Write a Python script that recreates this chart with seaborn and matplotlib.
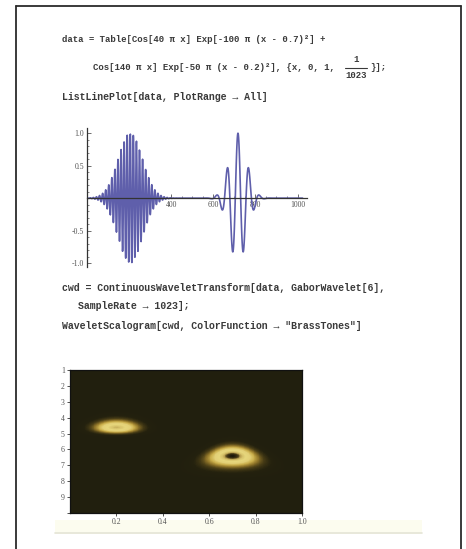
import numpy as np
import pandas as pd
import matplotlib
matplotlib.use("Agg")
import matplotlib.pyplot as plt
from matplotlib.colors import LinearSegmentedColormap
from matplotlib.lines import Line2D
from matplotlib.patches import Rectangle
import seaborn as sns

# --- signal definition (as written in the notebook input) ---
freqs = [40, 140]          # Cos[f π x]
centers = [0.7, 0.2]       # Exp[-w π (x - c)^2]
widths = [100, 50]
sample_rate = 1023
x_ticks_line = [200, 400, 600, 800, 1000]
y_ticks_line = [-1.0, -0.5, 0.5, 1.0]
octave_ticks = [1, 2, 3, 4, 5, 6, 7, 8, 9, 10]
octave_labels = ["1", "2", "3", "4", "5", "6", "7", "8", "9", ""]
time_ticks = [0.2, 0.4, 0.6, 0.8, 1.0]
gabor_w0 = 6

W, H = 466, 549
DPI = 100

sns.set_theme(style="white")
plt.rcParams["font.family"] = ["Liberation Mono", "DejaVu Sans Mono"]
plt.rcParams["path.simplify"] = False

x = np.arange(0, sample_rate + 1) / sample_rate
data = np.zeros_like(x)
for f, c, w in zip(freqs, centers, widths):
    data += np.cos(f * np.pi * x) * np.exp(-w * np.pi * (x - c) ** 2)
df = pd.DataFrame({"n": np.arange(1, len(data) + 1), "value": data})

# --- continuous wavelet transform with a Gabor (Morlet) wavelet ---
n = len(data)
M = 4096
F = np.fft.fft(data, M)
omega = 2 * np.pi * np.fft.fftfreq(M)
octaves = np.linspace(1, 10, 145)
rows = []
for o in octaves:
    s = 2 ** (o - 1) * 1.15
    psi = np.pi ** -0.25 * np.exp(-0.5 * (s * omega - gabor_w0) ** 2) * (omega > 0)
    coef = np.fft.ifft(F * psi)[:n] * np.sqrt(s)
    rows.append(np.abs(coef))
scal = np.array(rows)
scal = scal / scal.max()
scal = scal[:, ::2]
ncols = scal.shape[1]
nrows = scal.shape[0]

brass = LinearSegmentedColormap.from_list(
    "brass",
    [(0.00, "#211f0e"), (0.04, "#24210e"), (0.12, "#4a3e16"),
     (0.22, "#8e7328"), (0.34, "#c9ad4a"), (0.48, "#e2cf76"),
     (0.65, "#e6d67c"), (0.78, "#d8c46c"), (0.86, "#b89f50"),
     (0.93, "#4a3c16"), (1.00, "#1d180a")])

fig = plt.figure(figsize=(W / DPI, H / DPI), dpi=DPI)
fig.patch.set_facecolor("white")


def fx(px):
    return px / W


def fy(py):
    return 1 - py / H


# page frame
frame_kw = dict(color="#2b2b2b", lw=1.3, transform=fig.transFigure)
fig.add_artist(Line2D([fx(16), fx(16)], [fy(6), 0], **frame_kw))
fig.add_artist(Line2D([fx(460.5), fx(460.5)], [fy(6), 0], **frame_kw))
fig.add_artist(Line2D([fx(16), fx(460.5)], [fy(6), fy(6)], **frame_kw))

# cell bracket bar under the output
fig.add_artist(Rectangle((fx(55), fy(534)), fx(422) - fx(55), fy(520) - fy(534),
                         transform=fig.transFigure, facecolor="#fcfcef",
                         edgecolor="none", zorder=0))
fig.add_artist(Line2D([fx(55), fx(422)], [fy(533), fy(533)], color="#e4e4d6",
                      lw=1.2, transform=fig.transFigure, zorder=0))

code_kw = dict(fontsize=7.1, fontweight="bold", color="#3a3a3a", va="center",
               ha="left")
math_kw = {**code_kw, "fontsize": 6.5}
fig.text(fx(62), fy(40), "data = Table[Cos[40 π x] Exp[-100 π (x - 0.7)²] +", **math_kw)
fig.text(fx(93), fy(68), "Cos[140 π x] Exp[-50 π (x - 0.2)²], {x, 0, 1,", **math_kw)
fig.text(fx(356), fy(60), "1", **{**math_kw, "ha": "center"})
fig.text(fx(356), fy(76), "1023", **{**math_kw, "ha": "center"})
fig.add_artist(Line2D([fx(345), fx(367)], [fy(68), fy(68)], color="#3a3a3a",
                      lw=0.8, transform=fig.transFigure))
fig.text(fx(370), fy(68), "}];", **math_kw)
fig.text(fx(62), fy(97), "ListLinePlot[data, PlotRange → All]", **code_kw)
fig.text(fx(62), fy(288), "cwd = ContinuousWaveletTransform[data, GaborWavelet[6],", **code_kw)
fig.text(fx(78), fy(306), "SampleRate → 1023];", **code_kw)
fig.text(fx(62), fy(326), 'WaveletScalogram[cwd, ColorFunction → "BrassTones"]', **code_kw)

# --- ListLinePlot ---
ax1 = fig.add_axes([fx(87), fy(267), fx(307) - fx(87), fy(128) - fy(267)])
ax1.set_facecolor("none")
sns.lineplot(data=df, x="n", y="value", ax=ax1, color="#5f5fab", lw=1.2)
ax1.set_xlim(0, 1045)
ax1.set_ylim(-1.06, 1.08)
ax1.set_xlabel("")
ax1.set_ylabel("")
for side in ["top", "right"]:
    ax1.spines[side].set_visible(False)
ax1.spines["bottom"].set_position(("data", 0))
ax1.spines["left"].set_position(("data", 0))
for side in ["bottom", "left"]:
    ax1.spines[side].set_color("#333333")
    ax1.spines[side].set_linewidth(0.9)
ax1.set_xticks(x_ticks_line)
ax1.set_xticklabels([str(v) for v in x_ticks_line])
ax1.set_xticks(np.arange(50, 1050, 50), minor=True)
ax1.set_yticks(y_ticks_line)
ax1.set_yticklabels(["-1.0", "-0.5", "0.5", "1.0"])
ax1.set_yticks(np.arange(-1.0, 1.01, 0.1), minor=True)
ax1.tick_params(axis="both", which="major", direction="in", length=3, width=0.6,
                colors="#555555", labelsize=5.6, pad=2, bottom=True, left=True)
ax1.tick_params(axis="both", which="minor", direction="in", length=1.6, width=0.5,
                colors="#555555", bottom=True, left=True)
for lab in ax1.get_xticklabels() + ax1.get_yticklabels():
    lab.set_family("Liberation Serif")
    lab.set_color("#555555")

# --- WaveletScalogram ---
ax2 = fig.add_axes([fx(70), fy(513), fx(302) - fx(70), fy(370) - fy(513)])
sns.heatmap(scal, ax=ax2, cmap=brass, vmin=0, vmax=1, cbar=False,
            xticklabels=False, yticklabels=False, rasterized=True)
ax2.set_yticks([(k - 1) / 9 * nrows for k in octave_ticks])
ax2.set_yticklabels(octave_labels)
ax2.set_xticks([t * ncols for t in time_ticks])
ax2.set_xticklabels([f"{t:.1f}" for t in time_ticks])
for side in ax2.spines.values():
    side.set_visible(True)
    side.set_color("#111111")
    side.set_linewidth(0.9)
ax2.tick_params(axis="both", which="major", direction="out", length=2.2, width=0.6,
                colors="#333333", labelsize=5.6, pad=1.5, bottom=True, left=True)
for lab in ax2.get_xticklabels() + ax2.get_yticklabels():
    lab.set_family("Liberation Serif")
    lab.set_color("#555555")
    lab.set_rotation(0)

fig.savefig("out.png", dpi=DPI)
